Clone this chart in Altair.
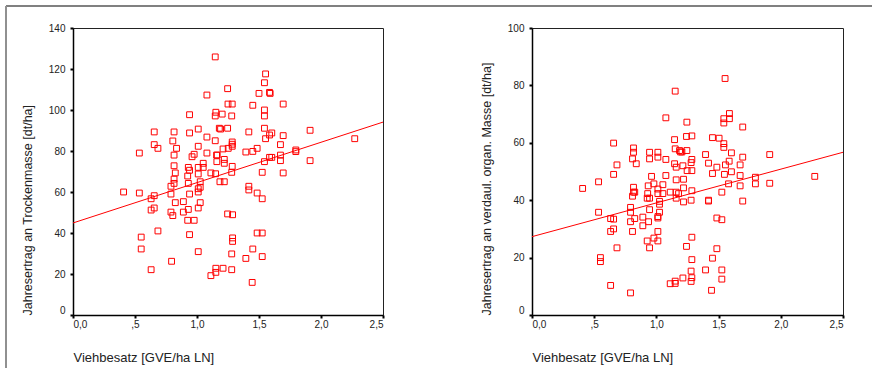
import altair as alt
import pandas as pd

# ---- data ----
left_x = [0.408, 0.535, 0.535, 0.55, 0.55, 0.63, 0.63, 0.63, 0.655, 0.655, 0.655, 0.655, 0.685, 0.685,
          0.795, 0.79, 0.79, 0.79, 0.805, 0.805, 0.815, 0.815, 0.815, 0.815, 0.815, 0.825, 0.825, 0.835,
          0.89, 0.89, 0.925, 0.93, 0.93, 0.93, 0.925, 0.94, 0.94, 0.94, 0.94, 0.94, 0.96, 0.977, 0.977,
          1.01, 1.01, 1.01, 1.01, 1.01, 1.01, 1.01, 1.01, 1.026, 1.026, 1.026, 1.05, 1.05,
          1.08, 1.08, 1.08, 1.112, 1.112, 1.147, 1.147, 1.147, 1.152, 1.15, 1.158, 1.163, 1.16, 1.152, 1.152,
          1.18, 1.19, 1.185, 1.203, 1.21, 1.22, 1.22, 1.22, 1.21, 1.247, 1.247, 1.247, 1.25, 1.252,
          1.28, 1.284, 1.284, 1.284, 1.284, 1.284, 1.28, 1.287, 1.287, 1.287, 1.28, 1.28,
          1.394, 1.394, 1.418, 1.418, 1.418, 1.45, 1.45, 1.45, 1.445, 1.485, 1.485, 1.485, 1.5,
          1.526, 1.526, 1.526, 1.526, 1.553, 1.544, 1.544, 1.544, 1.544, 1.553, 1.544,
          1.585, 1.59, 1.585, 1.585, 1.603, 1.603, 1.673, 1.673, 1.673, 1.695, 1.695, 1.695,
          1.797, 1.797, 1.912, 1.912, 2.272]
left_y = [60.0, 79.0, 59.5, 38.0, 32.2, 22.1, 56.7, 51.2, 89.3, 83.1, 58.2, 52.2, 81.3, 41.0,
          26.2, 62.8, 59.0, 50.2, 48.5, 84.9, 89.3, 78.0, 72.8, 66.3, 64.2, 69.3, 54.8, 81.3,
          55.3, 50.2, 67.8, 72.0, 64.2, 51.5, 46.2, 97.7, 88.8, 70.6, 59.0, 39.2, 77.2, 78.4, 46.2,
          90.7, 82.3, 72.0, 68.8, 61.6, 60.0, 52.2, 30.9, 65.0, 62.3, 54.8, 74.0, 72.0,
          107.3, 86.8, 79.0, 69.3, 19.2, 125.9, 97.1, 85.0, 98.9, 68.9, 78.0, 78.0, 74.8, 22.8, 20.8,
          91.1, 90.7, 65.0, 98.0, 81.0, 75.9, 74.0, 65.0, 22.8, 110.4, 91.1, 49.3, 102.9, 81.3,
          97.1, 102.9, 84.4, 83.3, 82.3, 72.5, 69.6, 48.9, 37.6, 35.9, 29.8, 22.1,
          79.5, 27.6, 89.3, 62.8, 61.0, 102.3, 79.8, 32.2, 15.9, 81.3, 59.5, 40.0, 108.1,
          69.6, 56.7, 40.0, 28.5, 117.6, 113.3, 100.0, 97.1, 91.1, 86.0, 74.8,
          108.6, 108.1, 87.8, 76.9, 88.8, 76.9, 83.1, 78.0, 75.3, 102.9, 87.5, 69.3,
          80.5, 79.7, 90.1, 75.3, 86.0]

right_x = [0.407, 0.535, 0.535, 0.55, 0.55, 0.632, 0.632, 0.632, 0.656, 0.656, 0.656, 0.656, 0.683, 0.683,
           0.792, 0.792, 0.792, 0.792, 0.808, 0.808, 0.816, 0.816, 0.816, 0.816, 0.808, 0.826, 0.826, 0.838,
           0.891, 0.891, 0.93, 0.934, 0.926, 0.937, 0.926, 0.945, 0.945, 0.945, 0.945, 0.945, 0.961, 0.98, 0.98,
           1.012, 1.012, 1.012, 1.012, 1.012, 1.012, 1.012, 1.012, 1.025, 1.025, 1.025, 1.052, 1.052,
           1.076, 1.076, 1.076, 1.111, 1.111, 1.151, 1.146, 1.146, 1.151, 1.159, 1.159, 1.159, 1.159, 1.151, 1.151,
           1.178, 1.186, 1.194, 1.205, 1.213, 1.218, 1.218, 1.218, 1.213, 1.245, 1.242, 1.245, 1.247, 1.242,
           1.279, 1.285, 1.285, 1.285, 1.285, 1.279, 1.285, 1.285, 1.279, 1.285, 1.279,
           1.395, 1.395, 1.419, 1.419, 1.419, 1.451, 1.451, 1.451, 1.443, 1.486, 1.486, 1.486, 1.504,
           1.526, 1.526, 1.526, 1.526, 1.552, 1.542, 1.542, 1.542, 1.542, 1.547, 1.555,
           1.587, 1.587, 1.585, 1.58, 1.603, 1.603, 1.673, 1.673, 1.673, 1.694, 1.694, 1.694,
           1.796, 1.796, 1.911, 1.911, 2.273]
right_y = [44.1, 46.4, 35.8, 20.0, 18.6, 10.3, 33.6, 29.1, 59.9, 49.0, 33.4, 30.0, 52.3, 23.4,
           7.7, 37.5, 35.8, 32.5, 29.1, 54.4, 58.2, 56.7, 44.5, 42.8, 41.4, 42.8, 33.6, 52.7,
           34.1, 31.1, 42.3, 45.0, 40.7, 32.5, 25.8, 56.7, 54.4, 40.7, 36.7, 23.4, 48.3, 45.7, 26.8,
           56.7, 55.0, 43.9, 42.3, 34.3, 33.8, 29.1, 25.8, 39.6, 38.6, 35.8, 45.4, 42.3,
           68.7, 54.2, 48.6, 42.8, 10.9, 78.0, 61.1, 52.7, 57.9, 51.5, 47.1, 42.8, 40.7, 11.8, 11.0,
           42.3, 57.3, 56.8, 56.8, 52.0, 47.3, 44.3, 39.4, 12.9, 67.2, 62.2, 57.3, 50.3, 23.9,
           53.1, 62.4, 54.2, 50.3, 43.3, 40.0, 27.1, 19.3, 15.3, 13.0, 11.7,
           55.9, 15.7, 52.9, 40.0, 39.7, 61.8, 49.3, 19.8, 8.6, 51.5, 33.8, 23.1, 61.6,
           42.8, 33.2, 15.7, 12.5, 82.4, 68.4, 66.9, 59.7, 58.4, 49.0, 52.3,
           70.2, 68.4, 53.6, 45.7, 56.5, 49.9, 52.3, 48.6, 45.0, 65.5, 55.0, 39.7,
           48.0, 45.7, 55.9, 45.9, 48.3]

fit_x = [0.0, 2.5]
left_fit_y = [44.9, 94.1]
right_fit_y = [27.3, 56.7]

x_ticks = [0.0, 0.5, 1.0, 1.5, 2.0, 2.5]
left_ticks = [0, 20, 40, 60, 80, 100, 120, 140]
right_ticks = [0, 20, 40, 60, 80, 100]

x_title = "Viehbesatz [GVE/ha LN]"
left_title = "Jahresertrag an Trockenmasse [dt/ha]"
right_title = "Jahresertrag an verdaul. organ. Masse [dt/ha]"

FONT = "Liberation Sans"
RED = "#ff0000"
W_L, W_R, H = 310, 311, 287

x_label_expr = "datum.value == 0.5 ? ',5' : replace(format(datum.value, '.1f'), '.', ',')"


def panel(xs, ys, fy, ymax, yticks, ytitle, width, frame_left):
    pts = pd.DataFrame({"x": xs, "y": ys})
    fit = pd.DataFrame({"x": fit_x, "y": fy})
    xenc = alt.X(
        "x:Q",
        scale=alt.Scale(domain=[0, 2.5], nice=False, zero=False),
        axis=alt.Axis(
            values=x_ticks, labelExpr=x_label_expr, title=x_title,
            grid=False, tickSize=3, tickColor="#000", tickWidth=2,
            domainColor="#000", domainWidth=1.5,
            labelFont=FONT, labelFontSize=10, labelColor="#222", labelPadding=1,
            titleFont=FONT, titleFontSize=13, titleFontWeight="normal", titleColor="#222",
            titleX=0, titleY=42, titleAlign="left", titleBaseline="middle", titleAnchor="start",
        ),
    )
    yenc = alt.Y(
        "y:Q",
        scale=alt.Scale(domain=[0, ymax], nice=False),
        axis=alt.Axis(
            values=yticks, format="d", title=ytitle,
            grid=False, tickSize=3, tickColor="#000", tickWidth=2,
            domainColor="#000", domainWidth=1.5,
            labelFont=FONT, labelFontSize=10, labelColor="#222", labelPadding=5,
            labelBaseline={"condition": {"test": "datum.value == 0", "value": "bottom"}, "value": "middle"},
            titleFont=FONT, titleFontSize=12.5, titleFontWeight="normal", titleColor="#222",
            titleAngle=270, titleX=-46, titleY=H, titleAlign="left", titleBaseline="middle",
        ),
    )
    points = alt.Chart(pts).mark_point(
        shape="square", filled=False, size=34, color=RED, strokeWidth=1, opacity=1
    ).encode(x=xenc, y=yenc)
    line = alt.Chart(fit).mark_line(color=RED, strokeWidth=1).encode(x="x:Q", y="y:Q")
    layers = [points, line]
    if frame_left:
        top = alt.Chart(pts).mark_rule(color="#808080", strokeWidth=2).encode(
            x=alt.value(-67), x2=alt.value(470), y=alt.value(-22))
        left = alt.Chart(pts).mark_rule(color="#909090", strokeWidth=2).encode(
            x=alt.value(-67), y=alt.value(-22), y2=alt.value(340))
        layers += [top, left]
    else:
        top = alt.Chart(pts).mark_rule(color="#808080", strokeWidth=2).encode(
            x=alt.value(-70), x2=alt.value(340), y=alt.value(-22))
        layers += [top]
    return alt.layer(*layers).properties(width=width, height=H)


left_chart = panel(left_x, left_y, left_fit_y, 140, left_ticks, left_title, W_L, True)
right_chart = panel(right_x, right_y, right_fit_y, 100, right_ticks, right_title, W_R, False)

chart = alt.hconcat(left_chart, right_chart, spacing=149, bounds="flush").properties(
    padding={"left": 4, "top": 4, "right": 0, "bottom": 0},
    background="white",
).configure_view(stroke="#222", strokeWidth=1)

chart.save("out.html", embed_options={"renderer": "svg", "actions": False})
